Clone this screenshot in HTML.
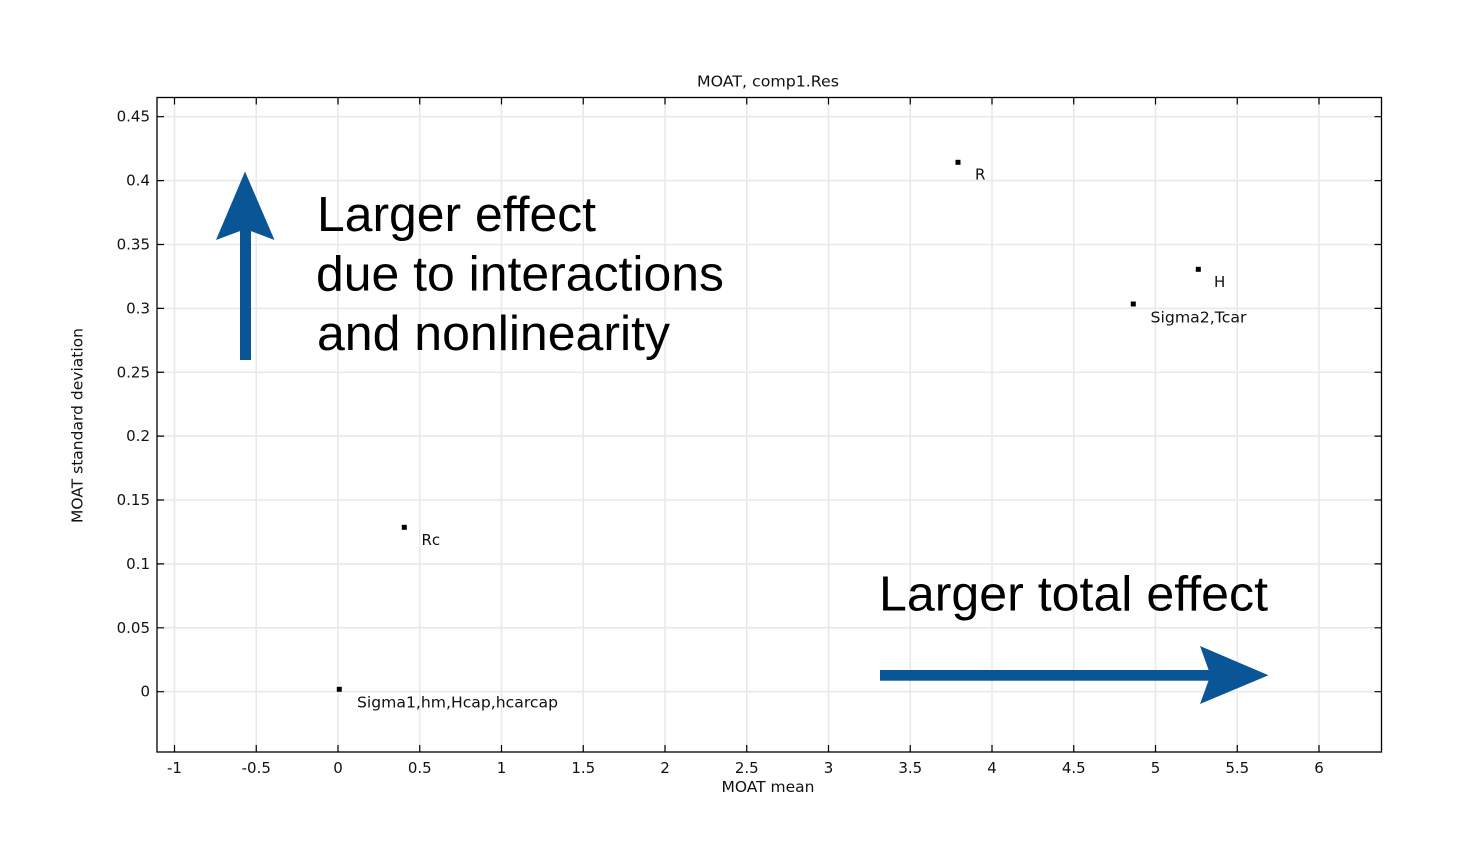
<!DOCTYPE html>
<html>
<head>
<meta charset="utf-8">
<style>
  html, body { margin: 0; padding: 0; background: #ffffff; }
  svg { display: block; }
  .t { font-family: "DejaVu Sans", "Liberation Sans", sans-serif; font-size: 15px; fill: #111; }
  .big { font-family: "Liberation Sans", "DejaVu Sans", sans-serif; font-size: 49px; fill: #000; }
</style>
</head>
<body>
<svg width="1457" height="860" viewBox="0 0 1457 860" xmlns="http://www.w3.org/2000/svg">
  <rect x="0" y="0" width="1457" height="860" fill="#ffffff"/>

  <!-- gridlines vertical -->
  <g stroke="#e9e9e9" stroke-width="1.6">
    <line x1="174.5" y1="98" x2="174.5" y2="752"/>
    <line x1="256.25" y1="98" x2="256.25" y2="752"/>
    <line x1="338" y1="98" x2="338" y2="752"/>
    <line x1="419.75" y1="98" x2="419.75" y2="752"/>
    <line x1="501.5" y1="98" x2="501.5" y2="752"/>
    <line x1="583.25" y1="98" x2="583.25" y2="752"/>
    <line x1="665" y1="98" x2="665" y2="752"/>
    <line x1="746.75" y1="98" x2="746.75" y2="752"/>
    <line x1="828.5" y1="98" x2="828.5" y2="752"/>
    <line x1="910.25" y1="98" x2="910.25" y2="752"/>
    <line x1="992" y1="98" x2="992" y2="752"/>
    <line x1="1073.75" y1="98" x2="1073.75" y2="752"/>
    <line x1="1155.5" y1="98" x2="1155.5" y2="752"/>
    <line x1="1237.25" y1="98" x2="1237.25" y2="752"/>
    <line x1="1319" y1="98" x2="1319" y2="752"/>
  </g>
  <!-- gridlines horizontal -->
  <g stroke="#e9e9e9" stroke-width="1.6">
    <line x1="157" y1="691.7" x2="1381" y2="691.7"/>
    <line x1="157" y1="627.8" x2="1381" y2="627.8"/>
    <line x1="157" y1="563.9" x2="1381" y2="563.9"/>
    <line x1="157" y1="500" x2="1381" y2="500"/>
    <line x1="157" y1="436.1" x2="1381" y2="436.1"/>
    <line x1="157" y1="372.25" x2="1381" y2="372.25"/>
    <line x1="157" y1="308.4" x2="1381" y2="308.4"/>
    <line x1="157" y1="244.5" x2="1381" y2="244.5"/>
    <line x1="157" y1="180.6" x2="1381" y2="180.6"/>
    <line x1="157" y1="116.7" x2="1381" y2="116.7"/>
  </g>

  <!-- ticks -->
  <g stroke="#000" stroke-width="1.2">
    <!-- bottom & top -->
    <path d="M174.5 752v-7M256.25 752v-7M338 752v-7M419.75 752v-7M501.5 752v-7M583.25 752v-7M665 752v-7M746.75 752v-7M828.5 752v-7M910.25 752v-7M992 752v-7M1073.75 752v-7M1155.5 752v-7M1237.25 752v-7M1319 752v-7"/>
    <path d="M174.5 97.5v7M256.25 97.5v7M338 97.5v7M419.75 97.5v7M501.5 97.5v7M583.25 97.5v7M665 97.5v7M746.75 97.5v7M828.5 97.5v7M910.25 97.5v7M992 97.5v7M1073.75 97.5v7M1155.5 97.5v7M1237.25 97.5v7M1319 97.5v7"/>
    <!-- left & right -->
    <path d="M157 691.7h7M157 627.8h7M157 563.9h7M157 500h7M157 436.1h7M157 372.25h7M157 308.4h7M157 244.5h7M157 180.6h7M157 116.7h7"/>
    <path d="M1381.5 691.7h-7M1381.5 627.8h-7M1381.5 563.9h-7M1381.5 500h-7M1381.5 436.1h-7M1381.5 372.25h-7M1381.5 308.4h-7M1381.5 244.5h-7M1381.5 180.6h-7M1381.5 116.7h-7"/>
  </g>

  <!-- frame -->
  <rect x="157" y="97.5" width="1224.5" height="654.5" fill="none" stroke="#000" stroke-width="1.3"/>

  <!-- title -->
  <text class="t" x="768" y="86.5" text-anchor="middle" textLength="142" lengthAdjust="spacingAndGlyphs">MOAT, comp1.Res</text>

  <!-- y tick labels -->
  <g class="t" text-anchor="end">
    <text class="t" x="150" y="696.7">0</text>
    <text class="t" x="150" y="632.8">0.05</text>
    <text class="t" x="150" y="568.9">0.1</text>
    <text class="t" x="150" y="505">0.15</text>
    <text class="t" x="150" y="441.1">0.2</text>
    <text class="t" x="150" y="377.25">0.25</text>
    <text class="t" x="150" y="313.4">0.3</text>
    <text class="t" x="150" y="249.5">0.35</text>
    <text class="t" x="150" y="185.6">0.4</text>
    <text class="t" x="150" y="121.7">0.45</text>
  </g>

  <!-- x tick labels -->
  <g text-anchor="middle">
    <text class="t" x="174.5" y="773">-1</text>
    <text class="t" x="256.25" y="773">-0.5</text>
    <text class="t" x="338" y="773">0</text>
    <text class="t" x="419.75" y="773">0.5</text>
    <text class="t" x="501.5" y="773">1</text>
    <text class="t" x="583.25" y="773">1.5</text>
    <text class="t" x="665" y="773">2</text>
    <text class="t" x="746.75" y="773">2.5</text>
    <text class="t" x="828.5" y="773">3</text>
    <text class="t" x="910.25" y="773">3.5</text>
    <text class="t" x="992" y="773">4</text>
    <text class="t" x="1073.75" y="773">4.5</text>
    <text class="t" x="1155.5" y="773">5</text>
    <text class="t" x="1237.25" y="773">5.5</text>
    <text class="t" x="1319" y="773">6</text>
  </g>

  <!-- axis labels -->
  <text class="t" x="768" y="792" text-anchor="middle" textLength="93" lengthAdjust="spacingAndGlyphs">MOAT mean</text>
  <text class="t" transform="translate(82.5,425.5) rotate(-90)" x="0" y="0" text-anchor="middle" textLength="195" lengthAdjust="spacingAndGlyphs">MOAT standard deviation</text>

  <!-- data points -->
  <g fill="#000">
    <rect x="955.5" y="159.8" width="5" height="5"/>
    <rect x="1195.8" y="266.8" width="5" height="5"/>
    <rect x="1130.8" y="301.5" width="5" height="5"/>
    <rect x="401.8" y="524.8" width="5" height="5"/>
    <rect x="336.8" y="686.8" width="5" height="5"/>
  </g>
  <text class="t" x="975" y="179.5">R</text>
  <text class="t" x="1214" y="287">H</text>
  <text class="t" x="1150.5" y="322.5" textLength="96" lengthAdjust="spacingAndGlyphs">Sigma2,Tcar</text>
  <text class="t" x="421.5" y="545">Rc</text>
  <text class="t" x="357" y="707.5" textLength="201" lengthAdjust="spacingAndGlyphs">Sigma1,hm,Hcap,hcarcap</text>

  <!-- up arrow -->
  <rect x="240" y="228" width="11" height="132" fill="#0a5596"/>
  <polygon points="245,171.5 274.5,240 245.5,229 216,240" fill="#0a5596"/>

  <!-- right arrow -->
  <rect x="880" y="670" width="332" height="10.7" fill="#0a5596"/>
  <polygon points="1268.5,675.3 1200,704 1210.5,675.3 1200,646" fill="#0a5596"/>

  <!-- big annotations -->
  <text class="big" x="317" y="231" textLength="279" lengthAdjust="spacingAndGlyphs">Larger effect</text>
  <text class="big" x="316" y="290.5" textLength="408" lengthAdjust="spacingAndGlyphs">due to interactions</text>
  <text class="big" x="317" y="350" textLength="353" lengthAdjust="spacingAndGlyphs">and nonlinearity</text>
  <text class="big" x="879" y="610.5" textLength="389" lengthAdjust="spacingAndGlyphs">Larger total effect</text>
</svg>
</body>
</html>
